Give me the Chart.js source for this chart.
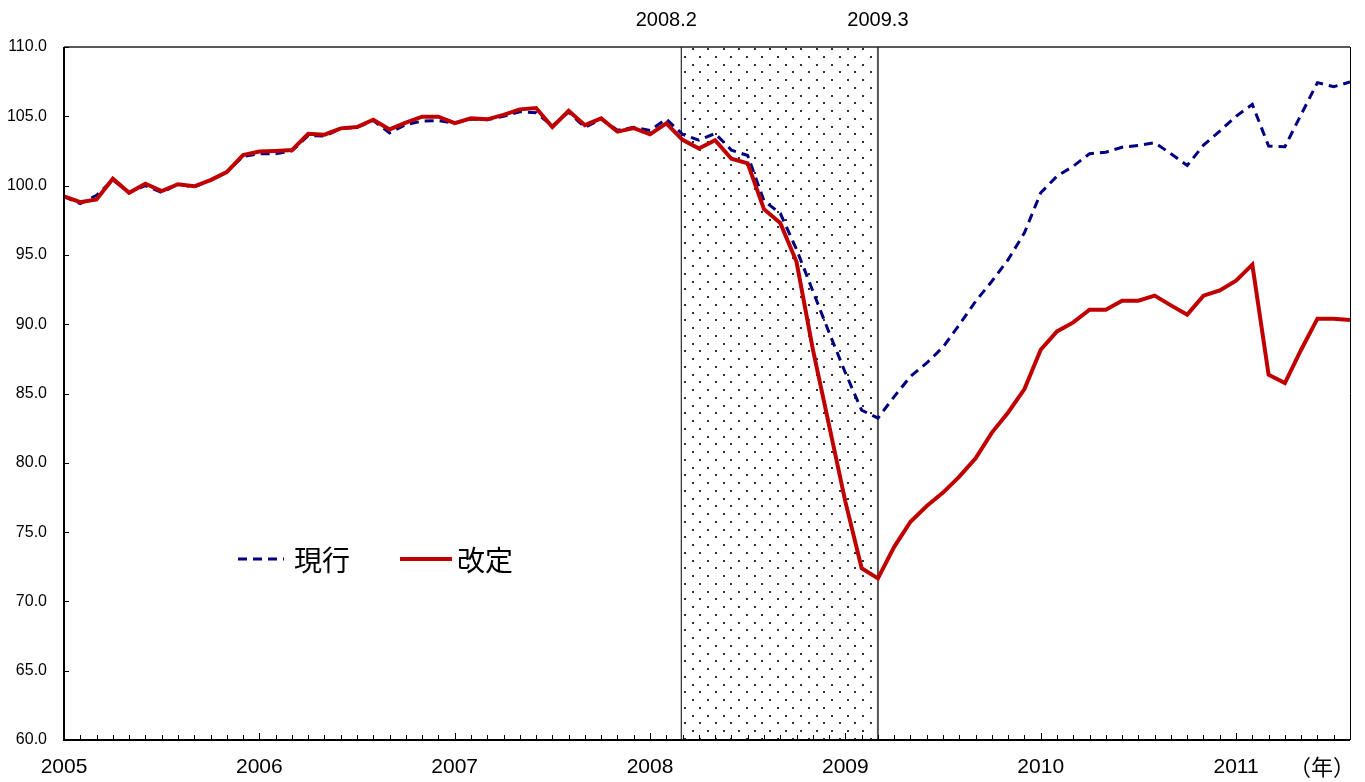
<!DOCTYPE html>
<html>
<head>
<meta charset="utf-8">
<script src="https://cdn.jsdelivr.net/npm/chart.js@4.4.1/dist/chart.umd.min.js"></script>
<style>
  html, body { margin: 0; padding: 0; background: #fff; }
</style>
</head>
<body>
<canvas id="chart" width="1365" height="782"></canvas>
<script>
// month index 0 = 2005.1 ... 79 = 2011.8
const yearLabels = ['2005', '2006', '2007', '2008', '2009', '2010', '2011'];
const yearTicks = [0, 12, 24, 36, 48, 60, 72];
const yTicks = [60, 65, 70, 75, 80, 85, 90, 95, 100, 105, 110];
const seriesNames = ['現行', '改定'];

// 現行 (current)
const genko = [
  99.2, 98.7, 99.3, 100.4, 99.5, 100.0, 99.5, 100.1, 99.9, 100.4, 101.0, 102.1,
  102.3, 102.3, 102.5, 103.6, 103.57, 104.1, 104.2, 104.7, 103.8, 104.4, 104.65, 104.7,
  104.5, 104.8, 104.75, 105.0, 105.33, 105.26, 104.3, 105.3, 104.2, 104.8, 104.0, 104.2,
  103.98, 104.8, 103.7, 103.28, 103.76, 102.56, 102.17, 98.9, 98.0, 95.4, 92.4, 89.4,
  86.5, 83.8, 83.22, 84.78, 86.23, 87.2, 88.35, 89.96, 91.65, 93.1, 94.66, 96.59,
  99.48, 100.68, 101.4, 102.3, 102.41, 102.77, 102.9, 103.09, 102.3, 101.45, 102.92, 103.93,
  105.0, 105.86, 102.85, 102.8, 105.13, 107.43, 107.14, 107.47
];

// 改定 (revised)
const kaitei = [
  99.23, 98.8, 99.0, 100.5, 99.48, 100.13, 99.6, 100.1, 99.95, 100.4, 100.97, 102.2,
  102.46, 102.5, 102.56, 103.74, 103.67, 104.13, 104.22, 104.75, 104.05, 104.54, 104.97, 104.97,
  104.51, 104.85, 104.78, 105.1, 105.5, 105.6, 104.22, 105.4, 104.36, 104.85, 103.89, 104.15,
  103.7, 104.5, 103.3, 102.68, 103.28, 101.94, 101.6, 98.3, 97.3, 94.5, 88.2, 82.7,
  77.2, 72.4, 71.66, 73.94, 75.75, 76.88, 77.85, 79.0, 80.33, 82.18, 83.63, 85.32,
  88.16, 89.48, 90.13, 91.05, 91.05, 91.7, 91.7, 92.06, 91.36, 90.69, 92.06, 92.44,
  93.14, 94.3, 86.35, 85.75, 88.16, 90.4, 90.4, 90.3
];

// shaded period, in month index
const shadeRange = [37.92, 50];
const shadeLabels = ['2008.2', '2009.3'];
const shadeLabelAt = [37, 50];

const sansFont = "'Liberation Sans', Arial, sans-serif";
const cjkFont = "'Noto Sans CJK JP', 'Noto Sans', sans-serif";

const shadePlugin = {
  id: 'shade',
  beforeDatasetsDraw(chart) {
    const { ctx, chartArea: a, scales: { x } } = chart;
    const x0 = x.getPixelForValue(shadeRange[0]);
    const x1 = x.getPixelForValue(shadeRange[1]);
    ctx.save();
    ctx.beginPath();
    ctx.rect(x0, a.top, x1 - x0, a.bottom - a.top);
    ctx.clip();
    ctx.fillStyle = '#333';
    const dx = 15.5, dy = 7.75;
    for (let r = 0, y = a.top + 2; y < a.bottom; r++, y += dy) {
      const start = x0 + (r % 2 === 0 ? 11.5 : 3.7);
      for (let xx = start; xx < x1; xx += dx) {
        ctx.fillRect(Math.round(xx) - 1, Math.round(y) - 1, 2, 2);
      }
    }
    ctx.restore();

    ctx.save();
    ctx.strokeStyle = '#000';
    ctx.lineWidth = 1;
    ctx.beginPath();
    ctx.moveTo(x0, a.top);
    ctx.lineTo(x0, a.bottom);
    ctx.stroke();
    ctx.strokeStyle = '#555';
    ctx.lineWidth = 2;
    ctx.beginPath();
    ctx.moveTo(x1, a.top);
    ctx.lineTo(x1, a.bottom);
    ctx.stroke();

    ctx.fillStyle = '#000';
    ctx.font = '20px ' + sansFont;
    ctx.textAlign = 'center';
    ctx.textBaseline = 'middle';
    shadeLabels.forEach((t, i) => {
      ctx.fillText(t, x.getPixelForValue(shadeLabelAt[i]), 20);
    });
    ctx.restore();
  }
};

const framePlugin = {
  id: 'frame',
  afterDraw(chart) {
    const { ctx, chartArea: a, scales: { x, y } } = chart;
    ctx.save();
    // box
    ctx.strokeStyle = '#000';
    ctx.lineWidth = 2;
    ctx.beginPath();
    ctx.moveTo(a.left, a.top);
    ctx.lineTo(a.left, a.bottom);
    ctx.lineTo(a.right, a.bottom);
    ctx.stroke();
    ctx.strokeStyle = '#222';
    ctx.lineWidth = 1.5;
    ctx.beginPath();
    ctx.moveTo(a.left, a.top);
    ctx.lineTo(a.right, a.top);
    ctx.stroke();
    ctx.lineWidth = 1;
    ctx.strokeStyle = '#000';
    ctx.beginPath();
    ctx.moveTo(a.right + 0.5, a.top);
    ctx.lineTo(a.right + 0.5, a.bottom);
    ctx.stroke();

    // inward ticks
    ctx.lineWidth = 1;
    ctx.beginPath();
    for (let i = 1; i < genko.length; i++) {
      const px = Math.round(x.getPixelForValue(i)) + 0.5;
      const len = i % 12 === 0 ? 7 : 5;
      ctx.moveTo(px, a.bottom);
      ctx.lineTo(px, a.bottom - len);
    }
    yTicks.forEach(v => {
      const py = Math.round(y.getPixelForValue(v)) + 0.5;
      ctx.moveTo(a.left, py);
      ctx.lineTo(a.left + 5, py);
    });
    ctx.stroke();

    // unit label
    ctx.fillStyle = '#000';
    ctx.font = '22px ' + cjkFont;
    ctx.textAlign = 'center';
    ctx.textBaseline = 'middle';
    ctx.fillText('（年）', 1322, 767);

    // legend
    const lx = [238, 400];
    const ly = 559;
    chart.data.datasets.forEach((ds, i) => {
      ctx.strokeStyle = ds.borderColor;
      ctx.lineWidth = ds.borderWidth;
      ctx.setLineDash(ds.borderDash || []);
      ctx.beginPath();
      ctx.moveTo(lx[i], ly);
      ctx.lineTo(lx[i] + (i === 0 ? 46 : 52), ly);
      ctx.stroke();
      ctx.setLineDash([]);
      ctx.font = '28px ' + cjkFont;
      ctx.textAlign = 'left';
      ctx.fillText(ds.label, lx[i] + (i === 0 ? 56 : 57), ly + 1);
    });
    ctx.restore();
  }
};

new Chart(document.getElementById('chart'), {
  type: 'line',
  data: {
    datasets: [
      {
        label: seriesNames[0],
        data: genko.map((v, i) => ({ x: i, y: v })),
        borderColor: '#000080',
        borderWidth: 3,
        borderDash: [9, 6],
        pointRadius: 0,
        fill: false,
        order: 1
      },
      {
        label: seriesNames[1],
        data: kaitei.map((v, i) => ({ x: i, y: v })),
        borderColor: '#c00000',
        borderWidth: 4,
        pointRadius: 0,
        fill: false,
        order: 0
      }
    ]
  },
  options: {
    responsive: false,
    animation: false,
    events: [],
    layout: { padding: { left: 0, top: 47, right: 15, bottom: 0 } },
    plugins: { legend: { display: false }, tooltip: { enabled: false } },
    scales: {
      x: {
        type: 'linear',
        min: 0,
        max: 79,
        afterBuildTicks: s => { s.ticks = yearTicks.map(v => ({ value: v })); },
        afterFit: s => { s.height = 42; },
        grid: { display: false, drawTicks: false },
        border: { display: false },
        ticks: {
          callback: v => yearLabels[yearTicks.indexOf(v)],
          font: { family: sansFont, size: 21 },
          color: '#000',
          padding: 15,
          maxRotation: 0,
          autoSkip: false
        }
      },
      y: {
        min: 60,
        max: 110,
        afterBuildTicks: s => { s.ticks = yTicks.map(v => ({ value: v })); },
        afterFit: s => { s.width = 64; },
        grid: { display: false, drawTicks: false },
        border: { display: false },
        ticks: {
          callback: v => v.toFixed(1),
          font: { family: sansFont, size: 16 },
          color: '#000',
          padding: 17
        }
      }
    }
  },
  plugins: [shadePlugin, framePlugin]
});
</script>
</body>
</html>
